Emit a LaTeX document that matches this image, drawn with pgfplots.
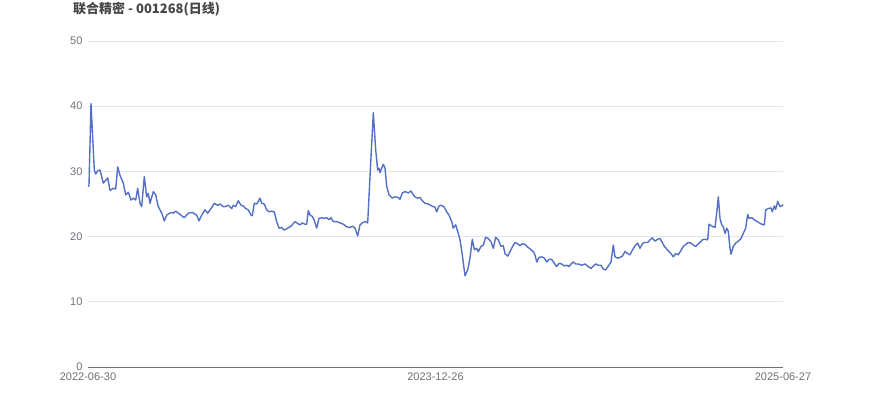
\documentclass[border=0pt]{standalone}
\usepackage{pgfplots}
\pgfplotsset{compat=1.18}
\usepackage{fontspec}
\setmainfont{Liberation Sans}
\newfontfamily\cjk{Noto Sans CJK SC}
\definecolor{linec}{HTML}{5470C6}
\definecolor{gridc}{HTML}{E0E6F1}
\definecolor{labc}{HTML}{6E7079}
\definecolor{titc}{HTML}{464646}
\begin{document}
\begin{tikzpicture}[x=1pt,y=1pt]
\path[use as bounding box] (0,0) rectangle (870,417);
\node[anchor=west,font=\cjk\bfseries\fontsize{13}{15}\selectfont,text=titc,inner sep=0pt] at (73,408) {联合精密 - 001268(日线)};
\begin{axis}[
  at={(88pt,50pt)}, anchor=south west,
  scale only axis, width=695pt, height=326pt,
  xmin=88, xmax=783, ymin=0, ymax=50,
  xtick={88,435.5,783},
  xticklabels={2022-06-30,2023-12-26,2025-06-27},
  ytick={0,10,20,30,40,50},
  ymajorgrids, grid style={gridc,line width=0.8pt},
  axis x line*=bottom, axis y line*=left,
  x axis line style={labc,line width=0.8pt,-},
  y axis line style={draw=none},
  major tick length=0pt,
  tick label style={font=\fontsize{11}{13}\selectfont,text=labc},
  xticklabel style={yshift=-2pt},
  yticklabel style={xshift=-2pt},
  /pgf/number format/assume math mode=true,
  clip=false,
]
\addplot[color=linec, line width=1.4pt, mark=none, line join=round] coordinates {
(88,27.7)(89,27.8)(91,40.4)(94.3,30.2)(95.7,29.6)(97.7,30.1)(100,30.2)(103.3,28.2)(106,28.7)(107.7,29.0)
(110,27.1)(113.3,27.4)(115.7,27.3)(117.7,30.7)(120,29.4)(123.3,28.2)(125.7,26.4)(128.3,26.8)(131,25.6)(133.3,25.9)
(135.7,25.6)(137.7,27.4)(140,25.1)(141.7,24.6)(144.3,29.2)(146.7,26.1)(148.3,26.6)(150,25.1)(153.3,26.9)(155.7,26.4)
(158.3,24.6)(161.7,23.6)(164.3,22.4)(166.7,23.3)(171,23.7)(173.3,23.6)(175.7,23.9)(178.3,23.6)(181.7,23.2)(184.3,22.9)
(188.3,23.6)(192.3,23.7)(196.7,23.3)(199,22.4)(201.7,23.3)(205,24.1)(207.7,23.6)(211,24.3)(214.3,25.1)(217.7,24.8)
(220,25.0)(223.3,24.6)(225,24.6)(228.3,24.8)(231.7,24.3)(233.3,24.8)(235.7,24.6)(238.3,25.5)(241,24.8)(243.3,24.7)
(245.7,24.3)(248.3,24.1)(251,23.3)(252.3,23.2)(254.3,25.1)(256.7,25.0)(258.3,25.4)(260,25.9)(261.7,25.1)(264.3,25.0)
(266.7,24.1)(269,23.8)(271.7,23.9)(274.3,23.8)(276.7,22.3)(279,21.3)(281.7,21.4)(284.3,21.0)(287.7,21.3)(291,21.6)
(295,22.3)(297.7,22.0)(300,21.8)(302.3,22.1)(305,21.9)(306.7,21.9)(308.3,24.0)(310,23.3)(312.3,23.1)(314.3,22.5)
(316.7,21.3)(319,22.8)(321.7,22.9)(324.3,22.8)(326.7,22.9)(329,22.6)(331,22.9)(333.3,22.3)(336.7,22.3)(340,22.1)
(343.3,21.9)(346.7,21.5)(350,21.4)(352.7,21.6)(355,21.3)(357.7,20.1)(360,21.8)(362.3,22.1)(365,22.3)(367.7,22.1)
(370,29.2)(373.3,39.0)(375.7,33.3)(377.7,30.2)(379,30.5)(380,29.8)(381.7,30.5)(383.3,31.1)(385,30.5)(386.7,27.7)
(389,26.4)(392.3,25.9)(395,26.1)(398.3,26.0)(400,25.7)(402.3,26.7)(405,26.9)(408.3,26.7)(411,27.0)(413.3,26.4)
(415,26.1)(417.7,25.9)(420,26.0)(422.3,25.5)(425,25.1)(428.3,25.0)(431.7,24.7)(435,24.5)(436.7,23.8)(439,24.7)
(441.7,24.8)(444.3,24.5)(446.7,23.8)(449,23.3)(451.7,22.3)(453.3,21.3)(455.7,21.8)(457.7,20.8)(460,19.5)(462.3,17.2)
(465,14.0)(467.7,14.9)(470,16.7)(472.3,19.6)(474.3,18.0)(476.7,18.2)(478.3,17.7)(481,18.5)(483.3,18.7)(485.7,19.9)
(488.3,19.7)(491,19.2)(493.3,18.2)(495.7,19.9)(498.3,19.5)(501,18.5)(503.3,18.6)(505,17.4)(507.7,17.0)(510,17.7)
(512.3,18.4)(515,19.1)(517.7,18.9)(520,18.6)(522.3,18.9)(525,18.8)(527.7,18.4)(531,18.0)(533.3,17.7)(535,17.2)
(536.7,16.1)(539,16.8)(541.7,16.9)(544.3,16.7)(546.7,16.1)(549,16.5)(551.7,16.5)(554.3,15.9)(556.7,15.4)(559,15.9)
(561.7,15.8)(564.3,15.5)(566.7,15.6)(569,15.4)(571.7,15.9)(573.3,16.1)(575.7,15.8)(578.3,15.8)(581.7,15.6)(585,15.8)
(588.3,15.4)(591,15.1)(593.3,15.5)(595.7,15.8)(598.3,15.6)(601,15.6)(603.3,15.0)(605.7,14.9)(608.3,15.5)(611,16.1)
(613.3,18.7)(615,16.9)(617.7,16.7)(620,16.8)(622.3,17.0)(625,17.7)(627.7,17.4)(630,17.2)(632.3,17.9)(635,18.6)
(637.7,19.0)(640,18.2)(642.3,18.9)(644.3,19.1)(647.7,19.1)(650,19.5)(652.3,19.8)(655,19.3)(657.7,19.6)(660,19.7)
(662.3,19.1)(664.3,18.5)(666.7,18.1)(669,17.7)(671,17.4)(673.3,16.9)(675.7,17.4)(678.3,17.2)(681,17.9)(683.3,18.5)
(685.7,18.8)(688.3,19.1)(691,19.0)(693.3,18.7)(695.7,18.5)(697.7,18.8)(700,19.1)(702.3,19.5)(705,19.6)(707.7,19.5)
(709,21.9)(711,21.7)(713.3,21.5)(715,21.4)(716.7,23.6)(718.3,26.1)(720,22.8)(721.7,21.8)(723.3,21.5)(725,20.5)
(726.7,21.3)(728.3,20.8)(730,18.2)(731,17.3)(733.3,18.5)(735.7,19.0)(738.3,19.3)(741,19.7)(743.3,20.5)(745.7,21.3)
(747.7,23.4)(749,22.8)(751.7,22.9)(755,22.5)(758.3,22.2)(761.7,21.9)(764.3,21.8)(765.7,24.1)(768.3,24.3)(771,24.4)
(772.3,23.8)(774.3,24.7)(775.7,24.2)(777.7,25.4)(780,24.6)(781.7,24.7)(783,24.9)
};
\end{axis}
\end{tikzpicture}
\end{document}
